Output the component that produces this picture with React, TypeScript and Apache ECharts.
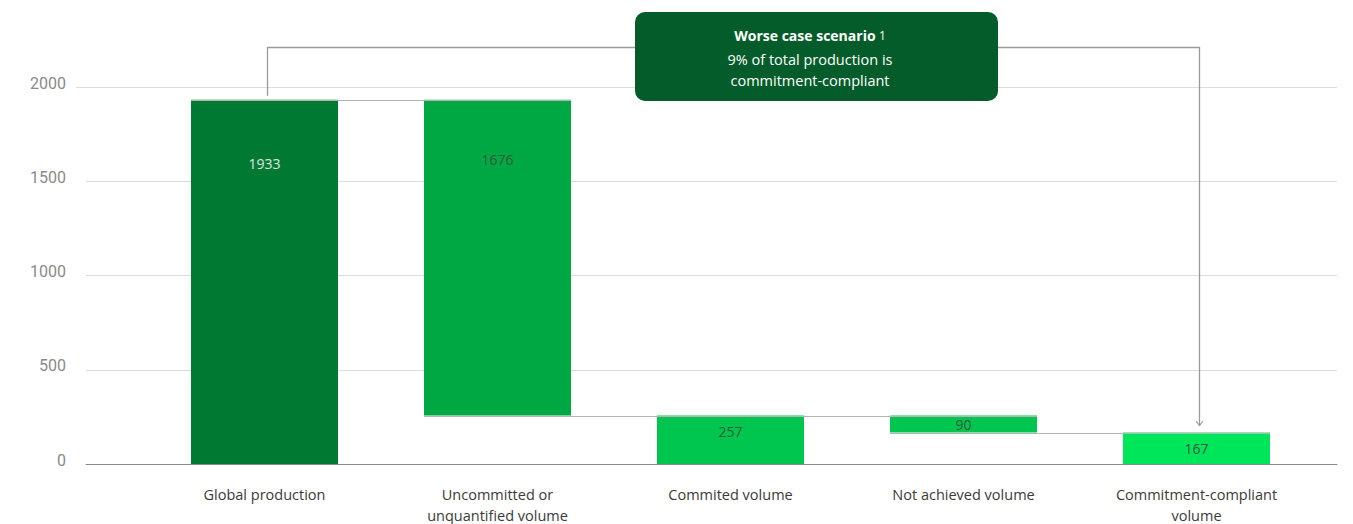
import React, { useEffect, useRef } from "react";
import * as echarts from "echarts";

const categories = [
  "Global production",
  "Uncommitted or\nunquantified volume",
  "Commited volume",
  "Not achieved volume",
  "Commitment-compliant\nvolume",
];
const values = [1933, 1676, 257, 90, 167];
const kinds = ["total", "decrease", "total", "decrease", "total"];
const barColors = ["#007a33", "#00a843", "#00c64f", "#00c64f", "#00e65a"];
const labelColors = ["#e2e2e2", "#2f5a3c", "#2f5a3c", "#2f5a3c", "#2f5a3c"];
const yTicks = [0, 500, 1000, 1500, 2000];
const calloutTitle = "Worse case scenario";
const calloutNote = "1";
const calloutLines = ["9% of total production is", "commitment-compliant"];

// waterfall bases and running levels
const bases: number[] = [];
const levels: number[] = [];
{
  let level = 0;
  values.forEach((v, i) => {
    if (kinds[i] === "total") {
      bases.push(0);
      level = v;
    } else {
      bases.push(level - v);
      level = level - v;
    }
    levels.push(level);
  });
}

const BAR_W = 147;

export default function App() {
  const ref = useRef<HTMLDivElement>(null);
  useEffect(() => {
    document.body.style.margin = "0";
    const chart = echarts.init(ref.current!, undefined, { renderer: "svg" });
    const labelPos: any[] = [
      { position: "insideTop", distance: 57 },
      { position: "insideTop", distance: 53 },
      { position: "insideTop", distance: 9 },
      { position: "inside" },
      { position: "inside" },
    ];
    chart.setOption({
      animation: false,
      grid: [
        { left: 86, right: 16, top: 87, bottom: 60, outerBoundsMode: "none", containLabel: false },
        { left: 148, width: 1165, top: 87, bottom: 60, outerBoundsMode: "none", containLabel: false },
      ],
      xAxis: [
        {
          gridIndex: 0,
          type: "value",
          min: 0,
          max: 1,
          axisLine: { show: true, onZero: false, lineStyle: { color: "#8c8c8c", width: 1 } },
          axisTick: { show: false },
          axisLabel: { show: false },
          splitLine: { show: false },
        },
        {
          gridIndex: 1,
          type: "category",
          data: categories,
          axisLine: { show: false },
          axisTick: { show: false },
          axisLabel: {
            interval: 0,
            margin: 20,
            color: "#3a3a3a",
            fontSize: 14.5,
            fontFamily: "Open Sans",
            lineHeight: 21,
          },
        },
      ],
      yAxis: [
        {
          gridIndex: 0,
          type: "value",
          min: yTicks[0],
          max: yTicks[yTicks.length - 1],
          interval: 500,
          axisLine: { show: false },
          axisTick: { show: false },
          axisLabel: {
            color: "#8a8a8a",
            fontFamily: "Roboto",
            margin: 20,
            formatter: (v: number) => `{a|${v}}`,
            rich: {
              a: { fontSize: 16, fontFamily: "Roboto", color: "#8a8a8a", padding: [0, 0, 8, 0] },
            },
          },
          splitLine: { lineStyle: { color: "#dcdcdc", width: 1 } },
        },
        {
          gridIndex: 1,
          type: "value",
          min: yTicks[0],
          max: yTicks[yTicks.length - 1],
          show: false,
          splitLine: { show: false },
        },
      ],
      series: [
        {
          type: "bar",
          xAxisIndex: 1,
          yAxisIndex: 1,
          stack: "wf",
          barWidth: BAR_W,
          silent: true,
          itemStyle: { color: "transparent" },
          data: bases,
        },
        {
          type: "bar",
          xAxisIndex: 1,
          yAxisIndex: 1,
          stack: "wf",
          barWidth: BAR_W,
          data: values.map((v, i) => ({
            value: v,
            itemStyle: { color: barColors[i] },
            label: {
              show: true,
              ...labelPos[i],
              color: labelColors[i],
              fontSize: 14,
              fontFamily: "Open Sans",
            },
          })),
        },
        {
          type: "custom",
          xAxisIndex: 1,
          yAxisIndex: 1,
          z: 5,
          silent: true,
          data: levels.slice(0, levels.length - 1).map((l, i) => [i, l]),
          renderItem: (params: any, api: any) => {
            const i = api.value(0);
            const l = api.value(1);
            const p = api.coord([i, l]);
            const w = api.size([1, 0])[0];
            const y = Math.round(p[1]) + 0.5;
            return {
              type: "line",
              shape: { x1: p[0] - BAR_W / 2, y1: y, x2: p[0] + w + BAR_W / 2, y2: y },
              style: { stroke: "#b4b4b4", lineWidth: 1 },
            };
          },
        },
      ],
    });

    const first = chart.convertToPixel({ gridIndex: 1 }, [0, levels[0]]) as number[];
    const last = chart.convertToPixel({ gridIndex: 1 }, [values.length - 1, levels[levels.length - 1]]) as number[];
    const y2000 = chart.convertToPixel({ gridIndex: 0 }, [0, 2000]) as number[];
    const bx1 = Math.round(first[0]) + 2.5;
    const bx2 = Math.round(last[0]) + 2.5;
    const topY = 47.5;
    const tipY = last[1] - 7;
    chart.setOption({
      graphic: [
        {
          type: "line",
          shape: { x1: 76, y1: Math.round(y2000[1]) + 0.5, x2: 86, y2: Math.round(y2000[1]) + 0.5 },
          style: { stroke: "#dcdcdc", lineWidth: 1 },
          silent: true,
        },
        {
          type: "polyline",
          shape: {
            points: [
              [bx1, first[1] - 4],
              [bx1, topY],
              [bx2, topY],
              [bx2, tipY],
            ],
          },
          style: { stroke: "#9a9a9a", lineWidth: 1.3, fill: "none" },
          silent: true,
        },
        {
          type: "polyline",
          shape: {
            points: [
              [bx2 - 3.5, tipY - 4.5],
              [bx2, tipY],
              [bx2 + 3.5, tipY - 4.5],
            ],
          },
          style: { stroke: "#9a9a9a", lineWidth: 1.1, fill: "none" },
          silent: true,
        },
        {
          type: "rect",
          shape: { x: 635, y: 12, width: 363, height: 89, r: 10 },
          style: { fill: "#035c29" },
          silent: true,
        },
        {
          type: "text",
          x: 810,
          y: 35,
          style: {
            text: `{b|${calloutTitle}} {s|${calloutNote}}`,
            align: "center",
            verticalAlign: "middle",
            rich: {
              b: { fontFamily: "Open Sans", fontWeight: "bold", fontSize: 14, lineHeight: 20, fill: "#ffffff" },
              s: { fontFamily: "Open Sans", fontSize: 12, lineHeight: 20, fill: "#ffffff" },
            },
          },
          silent: true,
        },
        {
          type: "text",
          x: 810,
          y: 70,
          style: {
            text: calloutLines.join("\n"),
            align: "center",
            verticalAlign: "middle",
            fontFamily: "Open Sans",
            fontSize: 14.5,
            lineHeight: 21,
            fill: "#ffffff",
          },
          silent: true,
        },
      ],
    });
    return () => chart.dispose();
  }, []);
  return <div ref={ref} style={{ width: 1353, height: 524 }} />;
}
